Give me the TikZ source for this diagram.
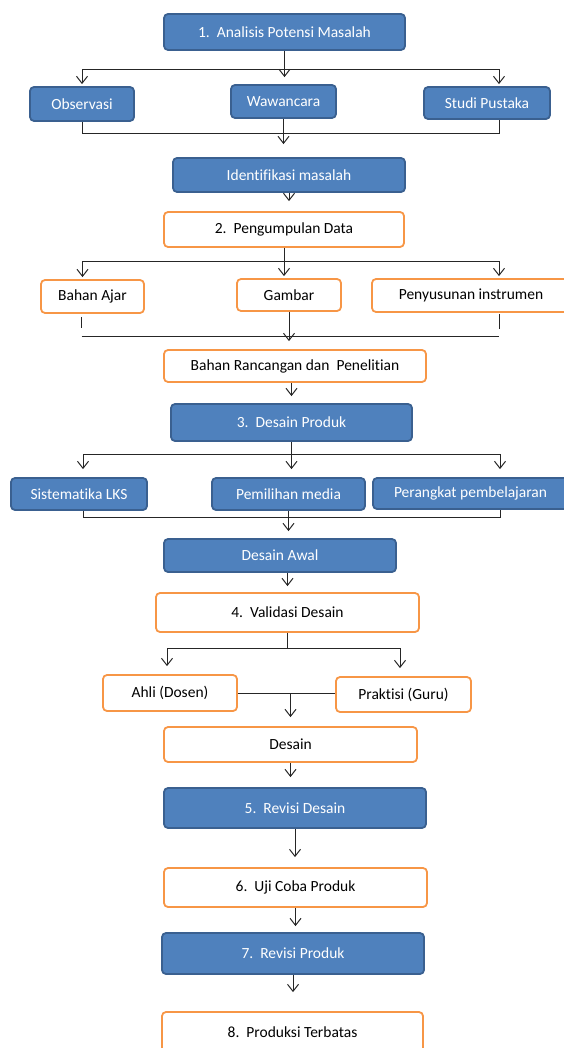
\documentclass[tikz,border=0pt]{standalone}
\usepackage{fontspec}
\setmainfont{Carlito}[Ligatures=NoCommon]
\usetikzlibrary{arrows.meta}
\definecolor{stepblue}{HTML}{4F81BD}
\definecolor{stepblueline}{HTML}{3A6090}
\definecolor{steporange}{HTML}{F79646}
\definecolor{linkgray}{HTML}{262626}

\begin{document}
\begin{tikzpicture}[x=1pt,y=-1pt,
  font=\fontsize{15.5}{18}\selectfont,
  box/.style={rounded corners=4pt,inner sep=0pt,line width=1.8pt,align=center},
  bluebox/.style={box,fill=stepblue,draw=stepblueline,text=white},
  orangebox/.style={box,fill=white,draw=steporange},
  link/.style={draw=linkgray,line width=1pt},
  arr/.style={link,-{Straight Barb[length=7pt,width=11pt]}}]
  \useasboundingbox (0,0) rectangle (564,1048);
  % 1. analisis potensi masalah
  \node[bluebox,minimum width=241,minimum height=36] (analisis) at (284.5,32) {1.\ \ Analisis Potensi Masalah};
  \node[bluebox,minimum width=104,minimum height=34] (observasi) at (82,104) {Observasi};
  \node[bluebox,minimum width=105,minimum height=33] (wawancara) at (283.5,101.5) {Wawancara};
  \node[bluebox,minimum width=126,minimum height=32] (studi) at (487,103) {Studi Pustaka};
  \node[bluebox,minimum width=232,minimum height=34] (identifikasi) at (289,175) {Identifikasi masalah};
  \coordinate (split1) at (0,70);
  \draw[arr,shorten >=7pt] (analisis) -- (analisis |- wawancara.north);
  \draw[arr,shorten >=2pt] (analisis |- split1) -| (observasi.north);
  \draw[arr,shorten >=2pt] (analisis |- split1) -| ([xshift=12pt]studi.north);
  \draw[link] (observasi.south) -- ++(0,12) -| ([xshift=12pt]studi.south);
  \draw[arr,shorten >=13pt] (wawancara) -- (wawancara |- identifikasi.north);
  % 2. pengumpulan data
  \node[orangebox,minimum width=240,minimum height=35] (pengumpulan) at (284,229.5) {2.\ \ Pengumpulan Data};
  \node[orangebox,minimum width=103,minimum height=33] (bahanajar) at (92.5,296.5) {Bahan Ajar};
  \node[orangebox,minimum width=104,minimum height=32] (gambar) at (289,295) {Gambar};
  \node[orangebox,minimum width=198,minimum height=33] (penyusunan) at (471,295.5) {Penyusunan instrumen};
  \node[orangebox,minimum width=262,minimum height=32] (rancangan) at (295,366) {Bahan Rancangan dan\ \ Penelitian};
  \coordinate (split2) at (0,262);
  \coordinate (merge2) at (0,336);
  \coordinate (ajarstub) at ([xshift=-11pt,yshift=-3pt]bahanajar.south);
  \coordinate (susunstub) at ([xshift=28pt,yshift=-1pt]penyusunan.south);
  \draw[arr,shorten >=10pt] (identifikasi) -- (identifikasi |- pengumpulan.north);
  \draw[arr,shorten >=2pt] (pengumpulan) -- (pengumpulan |- gambar.north);
  \draw[arr,shorten >=2pt] (pengumpulan |- split2) -| ([xshift=-10pt]bahanajar.north);
  \draw[arr,shorten >=2pt] (pengumpulan |- split2) -| ([xshift=28pt]penyusunan.north);
  \draw[link] (ajarstub) -- ++(0,11);
  \draw[link] (susunstub) -- ++(0,15);
  \draw[link] (ajarstub |- merge2) -- (susunstub |- merge2);
  \draw[arr,shorten >=8pt] (gambar) -- (gambar |- rancangan.north);
  % 3. desain produk
  \node[bluebox,minimum width=241,minimum height=37] (desainproduk) at (291.5,422.5) {3.\ \ Desain Produk};
  \node[bluebox,minimum width=136,minimum height=32] (lks) at (79,494) {Sistematika LKS};
  \node[bluebox,minimum width=153,minimum height=32] (media) at (288.5,494) {Pemilihan media};
  \node[bluebox,minimum width=195,minimum height=31] (perangkat) at (470.5,493.5) {Perangkat pembelajaran};
  \node[bluebox,minimum width=232,minimum height=33] (desainawal) at (280,555.5) {Desain Awal};
  \coordinate (split3) at (0,454);
  \draw[arr,shorten >=7pt] (desainproduk |- rancangan.south) -- (desainproduk.north);
  \draw[arr,shorten >=8pt] (desainproduk) -- (desainproduk |- media.north);
  \draw[arr,shorten >=8pt] (desainproduk |- split3) -| ([xshift=4pt]lks.north);
  \draw[arr,shorten >=8pt] (desainproduk |- split3) -| ([xshift=29.5pt]perangkat.north);
  \draw[link] ([xshift=4pt]lks.south) -- ++(0,7) -| ([xshift=29.5pt]perangkat.south);
  \draw[arr,shorten >=7pt] (media) -- (media |- desainawal.north);
  % 4. validasi desain
  \node[orangebox,minimum width=263,minimum height=39] (validasi) at (287.5,612.5) {4.\ \ Validasi Desain};
  \node[orangebox,minimum width=134,minimum height=36] (ahli) at (170,693) {Ahli (Dosen)};
  \node[orangebox,minimum width=135,minimum height=35] (praktisi) at (403.5,694.5) {Praktisi (Guru)};
  \node[orangebox,minimum width=253,minimum height=35] (desain) at (290.5,744.5) {Desain};
  \coordinate (split4) at (0,648);
  \draw[arr,shorten >=6pt] (validasi |- desainawal.south) -- (validasi.north);
  \draw[link] (validasi) -- (validasi |- split4);
  \draw[arr,shorten >=8pt] (validasi |- split4) -| ([xshift=-3pt]ahli.north);
  \draw[arr,shorten >=8pt] (validasi |- split4) -| ([xshift=-3.5pt]praktisi.north);
  \draw[link] (ahli.east) -- (ahli.east -| praktisi.west);
  \draw[arr,shorten >=9pt] (desain |- ahli.east) -- (desain.north);
  % 5.--8.
  \node[bluebox,minimum width=262,minimum height=40] (revisidesain) at (295,808) {5.\ \ Revisi Desain};
  \node[orangebox,minimum width=263,minimum height=39] (ujicoba) at (295.5,887.5) {6.\ \ Uji Coba Produk};
  \node[bluebox,minimum width=262,minimum height=41] (revisiproduk) at (293,953.5) {7.\ \ Revisi Produk};
  \node[orangebox,minimum width=261,minimum height=40] (produksi) at (292.5,1032) {8.\ \ Produksi Terbatas};
  \draw[arr,shorten >=10pt] (desain) -- (desain |- revisidesain.north);
  \draw[arr,shorten >=10pt] (revisidesain) -- (revisidesain |- ujicoba.north);
  \draw[arr,shorten >=6pt] (ujicoba) -- (ujicoba |- revisiproduk.north);
  \draw[arr,shorten >=19pt] (revisiproduk) -- (revisiproduk |- produksi.north);
\end{tikzpicture}
\end{document}
